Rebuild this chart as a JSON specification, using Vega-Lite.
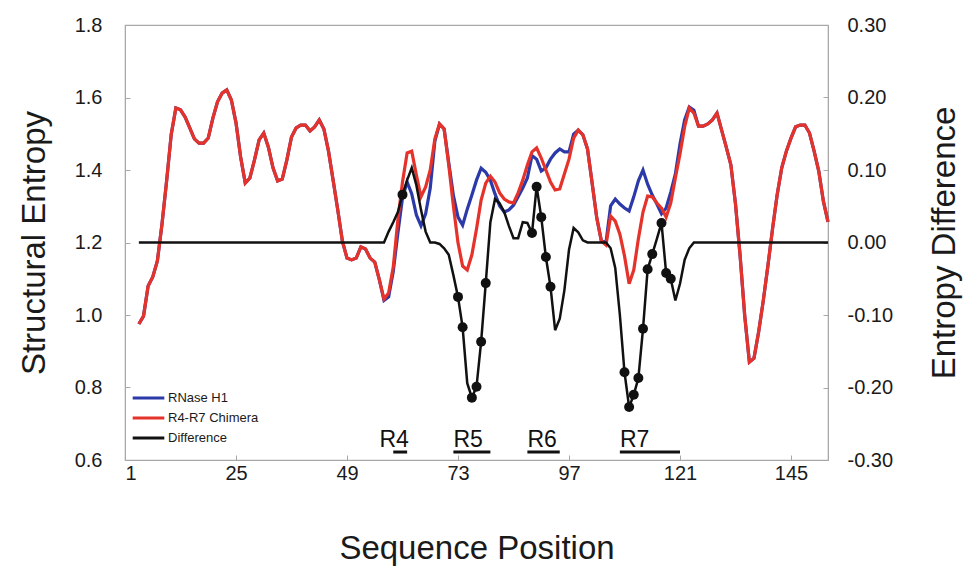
{
  "$schema": "https://vega.github.io/schema/vega-lite/v6.json",
  "width": 703,
  "height": 435,
  "autosize": "none",
  "padding": {"left": 125, "top": 25, "right": 135, "bottom": 107},
  "background": "white",
  "datasets": {
    "main": [
      {"p":4,"b":0.975,"r":0.975,"d":0},
      {"p":5,"b":0.997,"r":0.997,"d":0},
      {"p":6,"b":1.08,"r":1.08,"d":0},
      {"p":7,"b":1.105,"r":1.105,"d":0},
      {"p":8,"b":1.149,"r":1.149,"d":0},
      {"p":9,"b":1.251,"r":1.251,"d":0},
      {"p":10,"b":1.37,"r":1.37,"d":0},
      {"p":11,"b":1.499,"r":1.499,"d":0},
      {"p":12,"b":1.571,"r":1.571,"d":0},
      {"p":13,"b":1.566,"r":1.566,"d":0},
      {"p":14,"b":1.546,"r":1.546,"d":0},
      {"p":15,"b":1.516,"r":1.516,"d":0},
      {"p":16,"b":1.486,"r":1.486,"d":0},
      {"p":17,"b":1.474,"r":1.474,"d":0},
      {"p":18,"b":1.474,"r":1.474,"d":0},
      {"p":19,"b":1.488,"r":1.488,"d":0},
      {"p":20,"b":1.543,"r":1.543,"d":0},
      {"p":21,"b":1.588,"r":1.588,"d":0},
      {"p":22,"b":1.612,"r":1.612,"d":0},
      {"p":23,"b":1.621,"r":1.621,"d":0},
      {"p":24,"b":1.593,"r":1.593,"d":0},
      {"p":25,"b":1.53,"r":1.53,"d":0},
      {"p":26,"b":1.436,"r":1.436,"d":0},
      {"p":27,"b":1.364,"r":1.364,"d":0},
      {"p":28,"b":1.378,"r":1.378,"d":0},
      {"p":29,"b":1.428,"r":1.428,"d":0},
      {"p":30,"b":1.483,"r":1.483,"d":0},
      {"p":31,"b":1.502,"r":1.502,"d":0},
      {"p":32,"b":1.463,"r":1.463,"d":0},
      {"p":33,"b":1.406,"r":1.406,"d":0},
      {"p":34,"b":1.37,"r":1.37,"d":0},
      {"p":35,"b":1.375,"r":1.375,"d":0},
      {"p":36,"b":1.428,"r":1.428,"d":0},
      {"p":37,"b":1.491,"r":1.491,"d":0},
      {"p":38,"b":1.516,"r":1.516,"d":0},
      {"p":39,"b":1.524,"r":1.524,"d":0},
      {"p":40,"b":1.524,"r":1.524,"d":0},
      {"p":41,"b":1.508,"r":1.508,"d":0},
      {"p":42,"b":1.519,"r":1.519,"d":0},
      {"p":43,"b":1.538,"r":1.538,"d":0},
      {"p":44,"b":1.513,"r":1.513,"d":0},
      {"p":45,"b":1.452,"r":1.452,"d":0},
      {"p":46,"b":1.372,"r":1.372,"d":0},
      {"p":47,"b":1.29,"r":1.29,"d":0},
      {"p":48,"b":1.204,"r":1.204,"d":0},
      {"p":49,"b":1.157,"r":1.157,"d":0},
      {"p":50,"b":1.152,"r":1.152,"d":0},
      {"p":51,"b":1.157,"r":1.157,"d":0},
      {"p":52,"b":1.188,"r":1.188,"d":0},
      {"p":53,"b":1.182,"r":1.182,"d":0},
      {"p":54,"b":1.157,"r":1.157,"d":0},
      {"p":55,"b":1.146,"r":1.146,"d":0},
      {"p":56,"b":1.097,"r":1.097,"d":0},
      {"p":57,"b":1.04,"r":1.044,"d":0},
      {"p":58,"b":1.05,"r":1.061,"d":0.015},
      {"p":59,"b":1.12,"r":1.132,"d":0.028},
      {"p":60,"b":1.226,"r":1.262,"d":0.042},
      {"p":61,"b":1.323,"r":1.367,"d":0.066,"s":1},
      {"p":62,"b":1.367,"r":1.447,"d":0.086},
      {"p":63,"b":1.334,"r":1.452,"d":0.103},
      {"p":64,"b":1.276,"r":1.386,"d":0.079},
      {"p":65,"b":1.246,"r":1.326,"d":0.045},
      {"p":66,"b":1.279,"r":1.353,"d":0.015},
      {"p":67,"b":1.35,"r":1.4,"d":0},
      {"p":68,"b":1.48,"r":1.486,"d":0},
      {"p":69,"b":1.527,"r":1.527,"d":-0.002},
      {"p":70,"b":1.513,"r":1.513,"d":-0.008},
      {"p":71,"b":1.42,"r":1.414,"d":-0.017},
      {"p":72,"b":1.33,"r":1.301,"d":-0.045},
      {"p":73,"b":1.27,"r":1.199,"d":-0.075,"s":1},
      {"p":74,"b":1.248,"r":1.135,"d":-0.117,"s":1},
      {"p":75,"b":1.292,"r":1.124,"d":-0.194},
      {"p":76,"b":1.331,"r":1.166,"d":-0.214,"s":1},
      {"p":77,"b":1.372,"r":1.237,"d":-0.199,"s":1},
      {"p":78,"b":1.405,"r":1.317,"d":-0.137,"s":1},
      {"p":79,"b":1.394,"r":1.364,"d":-0.056,"s":1},
      {"p":80,"b":1.372,"r":1.383,"d":0.028},
      {"p":81,"b":1.334,"r":1.367,"d":0.06},
      {"p":82,"b":1.301,"r":1.337,"d":0.054},
      {"p":83,"b":1.284,"r":1.32,"d":0.042},
      {"p":84,"b":1.29,"r":1.312,"d":0.023},
      {"p":85,"b":1.303,"r":1.309,"d":0.006},
      {"p":86,"b":1.326,"r":1.337,"d":0.006},
      {"p":87,"b":1.35,"r":1.372,"d":0.028},
      {"p":88,"b":1.378,"r":1.414,"d":0.027},
      {"p":89,"b":1.44,"r":1.45,"d":0.013,"s":1},
      {"p":90,"b":1.43,"r":1.461,"d":0.077,"s":1},
      {"p":91,"b":1.397,"r":1.433,"d":0.035,"s":1},
      {"p":92,"b":1.406,"r":1.4,"d":-0.02,"s":1},
      {"p":93,"b":1.43,"r":1.367,"d":-0.061,"s":1},
      {"p":94,"b":1.447,"r":1.345,"d":-0.121},
      {"p":95,"b":1.458,"r":1.348,"d":-0.105},
      {"p":96,"b":1.45,"r":1.389,"d":-0.066},
      {"p":97,"b":1.45,"r":1.43,"d":-0.01},
      {"p":98,"b":1.499,"r":1.488,"d":0.02},
      {"p":99,"b":1.51,"r":1.51,"d":0.014},
      {"p":100,"b":1.497,"r":1.497,"d":0.003},
      {"p":101,"b":1.458,"r":1.458,"d":0},
      {"p":102,"b":1.364,"r":1.364,"d":0},
      {"p":103,"b":1.268,"r":1.268,"d":0},
      {"p":104,"b":1.204,"r":1.204,"d":0},
      {"p":105,"b":1.2,"r":1.193,"d":0},
      {"p":106,"b":1.301,"r":1.273,"d":-0.008},
      {"p":107,"b":1.32,"r":1.259,"d":-0.035},
      {"p":108,"b":1.306,"r":1.223,"d":-0.1},
      {"p":109,"b":1.295,"r":1.163,"d":-0.179,"s":1},
      {"p":110,"b":1.287,"r":1.086,"d":-0.227,"s":1},
      {"p":111,"b":1.326,"r":1.124,"d":-0.21,"s":1},
      {"p":112,"b":1.37,"r":1.21,"d":-0.187,"s":1},
      {"p":113,"b":1.4,"r":1.284,"d":-0.119,"s":1},
      {"p":114,"b":1.361,"r":1.328,"d":-0.037,"s":1},
      {"p":115,"b":1.331,"r":1.326,"d":-0.016,"s":1},
      {"p":116,"b":1.306,"r":1.309,"d":0.005},
      {"p":117,"b":1.279,"r":1.295,"d":0.027,"s":1},
      {"p":118,"b":1.295,"r":1.27,"d":-0.042,"s":1},
      {"p":119,"b":1.339,"r":1.309,"d":-0.05,"s":1},
      {"p":120,"b":1.389,"r":1.378,"d":-0.08},
      {"p":121,"b":1.472,"r":1.444,"d":-0.057},
      {"p":122,"b":1.538,"r":1.519,"d":-0.024},
      {"p":123,"b":1.574,"r":1.571,"d":-0.008},
      {"p":124,"b":1.565,"r":1.557,"d":0},
      {"p":125,"b":1.521,"r":1.521,"d":0},
      {"p":126,"b":1.521,"r":1.521,"d":0},
      {"p":127,"b":1.527,"r":1.527,"d":0},
      {"p":128,"b":1.538,"r":1.538,"d":0},
      {"p":129,"b":1.557,"r":1.557,"d":0},
      {"p":130,"b":1.51,"r":1.51,"d":0},
      {"p":131,"b":1.463,"r":1.463,"d":0},
      {"p":132,"b":1.414,"r":1.414,"d":0},
      {"p":133,"b":1.306,"r":1.306,"d":0},
      {"p":134,"b":1.163,"r":1.163,"d":0},
      {"p":135,"b":0.997,"r":0.997,"d":0},
      {"p":136,"b":0.87,"r":0.87,"d":0},
      {"p":137,"b":0.881,"r":0.881,"d":0},
      {"p":138,"b":0.953,"r":0.953,"d":0},
      {"p":139,"b":1.039,"r":1.039,"d":0},
      {"p":140,"b":1.135,"r":1.135,"d":0},
      {"p":141,"b":1.237,"r":1.237,"d":0},
      {"p":142,"b":1.331,"r":1.331,"d":0},
      {"p":143,"b":1.406,"r":1.406,"d":0},
      {"p":144,"b":1.452,"r":1.452,"d":0},
      {"p":145,"b":1.488,"r":1.488,"d":0},
      {"p":146,"b":1.519,"r":1.519,"d":0},
      {"p":147,"b":1.524,"r":1.524,"d":0},
      {"p":148,"b":1.524,"r":1.524,"d":0},
      {"p":149,"b":1.502,"r":1.502,"d":0},
      {"p":150,"b":1.452,"r":1.452,"d":0},
      {"p":151,"b":1.397,"r":1.397,"d":0},
      {"p":152,"b":1.314,"r":1.314,"d":0},
      {"p":153,"b":1.257,"r":1.257,"d":0}
    ],
    "regions": [
      {"name":"R4","tx":56,"s":59,"e":62},
      {"name":"R5","tx":72,"s":72,"e":80},
      {"name":"R6","tx":88,"s":88,"e":95},
      {"name":"R7","tx":108,"s":108,"e":121}
    ]
  },
  "config": {
    "font": "Liberation Sans",
    "locale": {"number": {"decimal": ".", "thousands": ",", "grouping": [3], "currency": ["$", ""], "minus": "-"}},
    "view": {"stroke": "#a8a8a8", "strokeWidth": 1.2},
    "axis": {
      "labelFont": "Liberation Sans",
      "titleFont": "Liberation Sans",
      "labelColor": "#1a1a1a",
      "titleColor": "#1a1a1a",
      "titleFontWeight": "normal",
      "labelFontSize": 20,
      "titleFontSize": 33,
      "domainColor": "#a8a8a8",
      "tickColor": "#a8a8a8",
      "grid": false
    },
    "legend": {
      "labelFont": "Liberation Sans",
      "labelColor": "#1a1a1a"
    }
  },
  "layer": [
    {
      "data": {"name": "main"},
      "layer": [
        {
          "mark": {"type": "line", "strokeWidth": 3.2},
          "encoding": {
            "x": {
              "field": "p", "type": "quantitative",
              "scale": {"domain": [1, 153], "nice": false, "zero": false},
              "axis": {
                "title": "Sequence Position",
                "values": [1, 25, 49, 73, 97, 121, 145],
                "tickSize": -5,
                "labelPadding": 8,
                "titlePadding": 49
              }
            },
            "y": {
              "field": "b", "type": "quantitative",
              "scale": {"domain": [0.6, 1.8], "nice": false, "zero": false},
              "axis": {
                "title": "Structural Entropy",
                "values": [0.6, 0.8, 1.0, 1.2, 1.4, 1.6, 1.8],
                "format": ".1f",
                "tickSize": -5,
                "labelPadding": 28,
                "titlePadding": 23
              }
            },
            "color": {
              "datum": "RNase H1",
              "scale": {
                "domain": ["RNase H1", "R4-R7 Chimera", "Difference"],
                "range": ["#2b3aa8", "#e5322a", "#111111"]
              },
              "legend": {
                "title": null,
                "orient": "none",
                "legendX": 6,
                "legendY": 363,
                "padding": 0,
                "symbolType": "stroke",
                "symbolSize": 1000,
                "symbolStrokeWidth": 3,
                "labelFontSize": 13,
                "labelOffset": 2,
                "clipHeight": 20,
                "rowPadding": 0
              }
            }
          }
        },
        {
          "mark": {"type": "line", "strokeWidth": 3.2},
          "encoding": {
            "x": {"field": "p", "type": "quantitative"},
            "y": {"field": "r", "type": "quantitative"},
            "color": {"datum": "R4-R7 Chimera"}
          }
        },
        {
          "data": {"name": "regions"},
          "mark": {"type": "text", "align": "left", "baseline": "alphabetic", "fontSize": 23, "color": "#111111", "font": "Liberation Sans"},
          "encoding": {
            "x": {"field": "tx", "type": "quantitative"},
            "y": {"datum": 0.637, "type": "quantitative"},
            "text": {"field": "name"}
          }
        },
        {
          "data": {"name": "regions"},
          "mark": {"type": "rule", "strokeWidth": 3, "color": "#111111"},
          "encoding": {
            "x": {"field": "s", "type": "quantitative"},
            "x2": {"field": "e"},
            "y": {"datum": 0.622, "type": "quantitative"}
          }
        }
      ]
    },
    {
      "data": {"name": "main"},
      "layer": [
        {
          "mark": {"type": "line", "strokeWidth": 2.5},
          "encoding": {
            "x": {"field": "p", "type": "quantitative"},
            "y": {
              "field": "d", "type": "quantitative",
              "scale": {"domain": [-0.3, 0.3], "nice": false, "zero": false},
              "axis": {
                "orient": "right",
                "title": "Entropy Difference",
                "values": [-0.3, -0.2, -0.1, 0, 0.1, 0.2, 0.3],
                "format": ".2f",
                "tickSize": -5,
                "labelPadding": 24,
                "titlePadding": 69,
                "titleAngle": 270
              }
            },
            "color": {"datum": "Difference"}
          }
        },
        {
          "transform": [{"filter": "datum.s == 1"}],
          "mark": {"type": "point", "filled": true, "size": 100, "color": "#111111", "opacity": 1},
          "encoding": {
            "x": {"field": "p", "type": "quantitative"},
            "y": {"field": "d", "type": "quantitative"}
          }
        }
      ]
    }
  ],
  "resolve": {"scale": {"y": "independent"}}
}
